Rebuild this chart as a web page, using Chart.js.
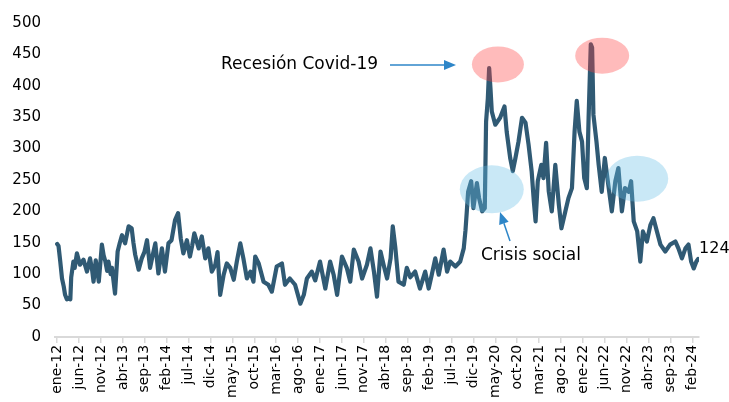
<!DOCTYPE html>
<html>
<head>
<meta charset="utf-8">
<script src="https://cdn.jsdelivr.net/npm/chart.js@4"></script>
<style>
  html, body { margin: 0; padding: 0; background: #fff; }
  #wrap { width: 729px; height: 402px; }
</style>
</head>
<body>
<div id="wrap"><canvas id="chart" width="729" height="402"></canvas></div>
<script>
// month index (0 = ene-12) and value
const months = [
  0, 0.3, 0.7, 1.1, 1.5, 1.8, 2.2, 2.6, 3.0, 3.2, 3.7, 4.0, 4.5, 5.2, 6.0, 6.8, 7.5, 8.0, 8.3, 8.8,
  9.5, 10.2, 10.6, 11.0, 11.4, 11.7, 12.2, 12.5, 13.2, 13.8, 14.3, 14.8, 15.5, 16.3, 17.0, 17.4, 17.8, 18.6, 19.3, 19.9,
  20.5, 21.2, 21.8, 22.4, 23.1, 23.9, 24.6, 25.4, 26.1, 26.9, 27.6, 28.2, 28.8, 29.6, 30.3, 30.8, 31.3, 32.3, 33.0, 33.8,
  34.5, 35.3, 36.1, 36.6, 37.2, 38.0, 38.7, 39.5, 40.3, 41.0, 41.8, 42.5, 43.3, 44.1, 44.8, 45.2, 46.0, 47.1, 48.2, 49.0,
  50.1, 51.3, 52.0, 53.1, 54.3, 55.5, 56.3, 57.0, 58.1, 58.9, 60.0, 61.2, 62.3, 63.1, 63.9, 65.0, 66.1, 66.9, 67.7, 68.8,
  69.6, 70.7, 71.5, 72.3, 73.0, 73.8, 74.5, 75.3, 76.1, 76.6, 77.2, 77.9, 79.1, 79.8, 80.6, 81.7, 82.8, 84.0, 84.8, 85.5,
  86.3, 87.1, 88.2, 89.0, 89.7, 90.9, 92.0, 92.8, 93.2, 93.5, 93.8, 94.5, 95.0, 95.8, 96.3, 97.0, 97.6, 97.9, 98.3, 98.6,
  98.9, 99.2, 100.0, 101.1, 102.1, 102.6, 103.4, 104.0, 104.6, 105.3, 106.1, 106.9, 107.6, 108.3, 108.8, 109.2, 109.7, 110.5, 111.0, 111.6,
  112.2, 112.9, 113.7, 114.5, 115.1, 116.0, 116.7, 117.5, 118.1, 118.6, 119.2, 119.8, 120.3, 120.9, 121.3, 121.8, 122.1, 122.4, 123.1, 123.6,
  124.3, 125.0, 125.8, 126.6, 127.4, 128.1, 128.9, 129.6, 130.5, 131.0, 131.6, 132.4, 133.1, 133.7, 134.6, 135.4, 136.1, 136.9, 137.7, 138.8,
  139.9, 141.1, 141.8, 142.6, 143.4, 144.1, 144.7, 145.3, 145.9, 146.3
];
const values = [
  148, 145, 120, 93, 80, 67, 60, 62, 60, 95, 120, 110, 133, 115, 123, 104, 125, 105, 88, 122,
  88, 147, 130, 120, 105, 120, 100, 110, 69, 136, 150, 162, 149, 176, 173, 150, 131, 107, 125, 135,
  154, 110, 130, 149, 101, 141, 104, 149, 154, 186, 197, 157, 133, 154, 128, 145, 165, 141, 160, 125,
  141, 104, 115, 135, 67, 99, 117, 110, 91, 120, 149, 125, 93, 104, 88, 128, 117, 88, 83, 72,
  112, 117, 83, 93, 83, 53, 67, 93, 104, 90, 120, 77, 120, 99, 67, 128, 110, 88, 139, 120,
  93, 115, 141, 104, 64, 136, 115, 93, 125, 176, 141, 88, 83, 110, 95, 104, 77, 104, 77, 99,
  125, 99, 139, 104, 120, 112, 120, 141, 170, 200, 231, 248, 205, 245, 221, 200, 205, 343, 380, 428,
  396, 359, 338, 349, 367, 327, 285, 264, 285, 311, 349, 341, 306, 264, 216, 184, 248, 274, 253, 309,
  232, 200, 274, 211, 173, 200, 221, 237, 327, 376, 327, 311, 253, 237, 349, 466, 461, 354, 311, 274,
  231, 285, 242, 200, 248, 269, 200, 237, 231, 248, 184, 168, 120, 168, 152, 178, 189, 168, 147, 136,
  147, 152, 141, 125, 141, 147, 120, 109, 120, 124
];
const tickLabels = [
  'ene-12', 'jun-12', 'nov-12', 'abr-13', 'sep-13', 'feb-14', 'jul-14', 'dic-14', 'may-15', 'oct-15',
  'mar-16', 'ago-16', 'ene-17', 'jun-17', 'nov-17', 'abr-18', 'sep-18', 'feb-19', 'jul-19', 'dic-19',
  'may-20', 'oct-20', 'mar-21', 'ago-21', 'ene-22', 'jun-22', 'nov-22', 'abr-23', 'sep-23', 'feb-24'
];
const yTicks = [0, 50, 100, 150, 200, 250, 300, 350, 400, 450, 500];

const FONT = "'DejaVu Sans', sans-serif";

function arrow(ctx, x1, y1, x2, y2) {
    const ang = Math.atan2(y2 - y1, x2 - x1);
    const len = 12, w = 5;
    ctx.strokeStyle = '#2E86C8';
    ctx.fillStyle = '#2E86C8';
    ctx.lineWidth = 1.5;
    ctx.beginPath();
    ctx.moveTo(x1, y1);
    ctx.lineTo(x2 - Math.cos(ang) * len, y2 - Math.sin(ang) * len);
    ctx.stroke();
    ctx.beginPath();
    ctx.moveTo(x2, y2);
    ctx.lineTo(x2 - Math.cos(ang) * len - Math.sin(ang) * w, y2 - Math.sin(ang) * len + Math.cos(ang) * w);
    ctx.lineTo(x2 - Math.cos(ang) * len + Math.sin(ang) * w, y2 - Math.sin(ang) * len - Math.cos(ang) * w);
    ctx.closePath();
    ctx.fill();
}

// ellipses, arrows and notes
const notes = {
    id: 'notes',
    afterDatasetsDraw(chart) {
        const { ctx, scales: { x, y } } = chart;
        ctx.save();
        const ell = (m, v, rx, ry, color) => {
            ctx.fillStyle = color;
            ctx.beginPath();
            ctx.ellipse(x.getPixelForValue(m), y.getPixelForValue(v), rx, ry, 0, 0, Math.PI * 2);
            ctx.fill();
        };
        ell(100.6, 434, 26, 18, 'rgba(255,60,60,0.35)');
        ell(124.4, 448, 27, 18, 'rgba(255,60,60,0.35)');
        ell(99.2, 235, 32, 24, 'rgba(100,190,230,0.35)');
        ell(132.4, 252, 31, 23, 'rgba(100,190,230,0.35)');

        arrow(ctx, 390, 65, 456, 65);
        arrow(ctx, 510, 241, 500, 212);

        ctx.fillStyle = '#000';
        ctx.font = '17px ' + FONT;
        ctx.textBaseline = 'middle';
        ctx.textAlign = 'left';
        ctx.fillText('Recesión Covid-19', 221, 65);
        ctx.fillText('Crisis social', 481, 256);

        const last = months.length - 1;
        ctx.font = '16px ' + FONT;
        ctx.fillText(String(values[last]), x.getPixelForValue(months[last]) + 1, 249);
        ctx.restore();
    }
};

new Chart(document.getElementById('chart'), {
    type: 'line',
    data: {
        datasets: [
            {
                data: months.map((m, i) => ({ x: m, y: values[i] })),
                borderColor: '#305A74',
                borderWidth: 4.2,
                pointRadius: 0,
                tension: 0,
                borderJoinStyle: 'round',
                borderCapStyle: 'round'
            }
        ]
    },
    options: {
        responsive: false,
        animation: false,
        layout: { padding: { top: 16, right: 30, left: 8, bottom: 2 } },
        plugins: {
            legend: { display: false },
            tooltip: { enabled: false }
        },
        scales: {
            x: {
                type: 'linear',
                min: -0.5,
                max: 146.5,
                afterBuildTicks: (axis) => {
                    axis.ticks = tickLabels.map((_, i) => ({ value: i * 5 }));
                },
                ticks: {
                    autoSkip: false,
                    maxRotation: 90,
                    minRotation: 90,
                    color: '#000',
                    font: { family: FONT, size: 14 },
                    padding: 2,
                    callback: (v) => tickLabels[Math.round(v / 5)]
                },
                grid: {
                    drawOnChartArea: false,
                    drawTicks: true,
                    tickLength: 6,
                    color: '#d9d9d9',
                    lineWidth: 1.5
                },
                border: { color: '#d9d9d9', width: 2 }
            },
            y: {
                min: 0,
                max: 500,
                afterBuildTicks: (axis) => {
                    axis.ticks = yTicks.map((v) => ({ value: v }));
                },
                afterFit: (axis) => { axis.width = 47; },
                ticks: {
                    color: '#000',
                    font: { family: FONT, size: 15 },
                    padding: 14
                },
                grid: { display: false, drawTicks: false },
                border: { display: false }
            }
        }
    },
    plugins: [notes]
});
</script>
</body>
</html>
